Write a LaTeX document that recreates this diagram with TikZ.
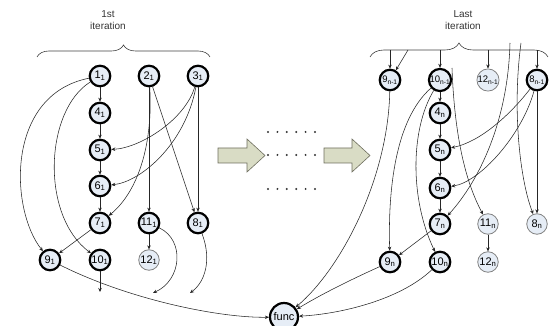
\documentclass[tikz,border=0pt]{standalone}
\usepackage{fontspec}
\setmainfont{Liberation Sans}
\usetikzlibrary{arrows.meta,decorations.pathreplacing}

\definecolor{nodefill}{HTML}{E6EDF6}
\definecolor{arrowfill}{HTML}{D9DCC5}
\definecolor{arrowline}{HTML}{6E6E5E}

\tikzset{
  thk/.style={circle, draw=black, line width=2.2pt, fill=nodefill, minimum size=20.5pt,
    inner sep=0pt, font=\fontsize{11}{12}\selectfont},
  thn/.style={thk, draw=black!50, line width=0.8pt},
  nsub/.style={font=\fontsize{9.5}{10}\selectfont},
  edge/.style={-{Stealth[length=4pt,width=3.5pt]}, line width=0.55pt, black!85},
  brc/.style={decorate, decoration={brace, amplitude=#1}, line width=0.6pt, black!75},
  blk/.style={fill=arrowfill, draw=arrowline, line width=0.6pt},
  ttl/.style={align=center, font=\fontsize{10}{12}\selectfont, text=black!80},
}

\begin{document}
\begin{tikzpicture}[x=1pt,y=-1pt]
  \useasboundingbox (0,0) rectangle (550,326);

  % braces and titles
  \draw[brc=12pt] (37,57) -- (210,57);
  \draw[brc=14pt] (370,57) -- (548,57);
  \node[ttl] (t1st) at (108,20) {1st\\iteration};
  \node[ttl] (tlast) at (463,20) {Last\\iteration};

  % first iteration
  \node[thk] (a1) at (100,76) {1\textsubscript{1}};
  \node[thk] (a2) at (149,76) {2\textsubscript{1}};
  \node[thk] (a3) at (198,76) {3\textsubscript{1}};
  \node[thk] (a4) at (100,113) {4\textsubscript{1}};
  \node[thk] (a5) at (100,150) {5\textsubscript{1}};
  \node[thk] (a6) at (100,186) {6\textsubscript{1}};
  \node[thk] (a7) at (100,223) {7\textsubscript{1}};
  \node[thk] (a11) at (149,223) {11\textsubscript{1}};
  \node[thk] (a8) at (198,223) {8\textsubscript{1}};
  \node[thk] (a9) at (50,260) {9\textsubscript{1}};
  \node[thk] (a10) at (100,260) {10\textsubscript{1}};
  \node[thn] (a12) at (149,260) {12\textsubscript{1}};

  \coordinate (e10) at (100,292);
  \coordinate (e11) at (153,293);
  \coordinate (e8) at (190,293);

  \draw[edge] (a1) -- (a4);
  \draw[edge] (a4) -- (a5);
  \draw[edge] (a5) -- (a6);
  \draw[edge] (a6) -- (a7);
  \draw[edge] (a1) .. controls (5,95) and (10,210) .. (a9);
  \draw[edge] (a1) .. controls (45,110) and (40,215) .. (a10);
  \draw[edge] (a2) -- (a11);
  \draw[edge] (a2) .. controls (153,140) and (140,190) .. (a7);
  \draw[edge] (a2) -- (a8);
  \draw[edge] (a3) .. controls (185,120) and (140,148) .. (a5);
  \draw[edge] (a3) .. controls (185,145) and (140,182) .. (a6);
  \draw[edge] (a3) -- (a8);
  \draw[edge] (a7) -- (a9);
  \draw[edge] (a11) -- (a12);
  \draw[edge] (a11) .. controls (185,240) and (182,280) .. (e11);
  \draw[edge] (a8) .. controls (212,260) and (205,282) .. (e8);
  \draw[edge] (a10) -- (e10);

  % middle
  \draw[blk] (218,148) -- (247,148) -- (247,139) -- (265,155.5) -- (247,172)
    -- (247,163) -- (218,163) -- cycle;
  \draw[blk] (324,148) -- (352,148) -- (352,139) -- (370,155.5) -- (352,172)
    -- (352,163) -- (324,163) -- cycle;
  \foreach \y in {132,155,189}
    \foreach \i in {0,...,5}
      \fill[black!80] (268+9.4*\i,\y) circle (1.1pt);

  % last iteration
  \node[thk,nsub] (b9p) at (390,80) {9\textsubscript{n-1}};
  \node[thk,nsub] (b10p) at (440,80) {10\textsubscript{n-1}};
  \node[thn,nsub] (b12p) at (488,80) {12\textsubscript{n-1}};
  \node[thk,nsub] (b8p) at (537,80) {8\textsubscript{n-1}};
  \node[thk] (b4) at (440,113) {4\textsubscript{n}};
  \node[thk] (b5) at (440,150) {5\textsubscript{n}};
  \node[thk] (b6) at (440,188) {6\textsubscript{n}};
  \node[thk] (b7) at (440,224) {7\textsubscript{n}};
  \node[thn] (b11) at (488,224) {11\textsubscript{n}};
  \node[thn] (b8) at (537,224) {8\textsubscript{n}};
  \node[thk] (b9) at (390,262) {9\textsubscript{n}};
  \node[thk] (b10) at (440,262) {10\textsubscript{n}};
  \node[thn] (b12) at (488,262) {12\textsubscript{n}};

  \node[thk, minimum size=28pt] (func) at (284,317) {func};

  \coordinate (s9) at (390,50);
  \coordinate (s9d) at (408,50);
  \coordinate (s10) at (440,50);
  \coordinate (s12) at (488,50);
  \coordinate (s8) at (537,50);
  \coordinate (s11) at (452,68);
  \coordinate (s7n) at (510,43);
  \coordinate (s8n) at (521,43);

  \draw[edge] (s9) -- (b9p);
  \draw[edge] (s9d) -- (b9p);
  \draw[edge] (s10) -- (b10p);
  \draw[edge] (s12) -- (b12p);
  \draw[edge] (s8) -- (b8p);
  \draw[edge] (b10p) -- (b4);
  \draw[edge] (b4) -- (b5);
  \draw[edge] (b5) -- (b6);
  \draw[edge] (b6) -- (b7);
  \draw[edge] (b10p) .. controls (395,120) and (388,190) .. (b9);
  \draw[edge] (b10p) .. controls (410,130) and (410,200) .. (b10);
  \draw[edge] (s11) .. controls (455,150) and (470,190) .. (b11);
  \draw[edge] (s7n) .. controls (508,120) and (480,180) .. (b7);
  \draw[edge] (s8n) .. controls (512,110) and (520,180) .. (b8);
  \draw[edge] (b8p) .. controls (510,115) and (480,142) .. (b5);
  \draw[edge] (b8p) .. controls (522,135) and (480,182) .. (b6);
  \draw[edge] (b8p) -- (b8);
  \draw[edge] (b7) -- (b9);
  \draw[edge] (b11) -- (b12);

  % into func
  \draw[edge] (a9) .. controls (130,300) and (220,318) .. (func);
  \draw[edge] (b9p) .. controls (388,180) and (340,270) .. (func);
  \draw[edge] (b9) .. controls (350,280) and (320,295) .. (func);
  \draw[edge] (b10) .. controls (400,300) and (340,314) .. (func);
\end{tikzpicture}
\end{document}
